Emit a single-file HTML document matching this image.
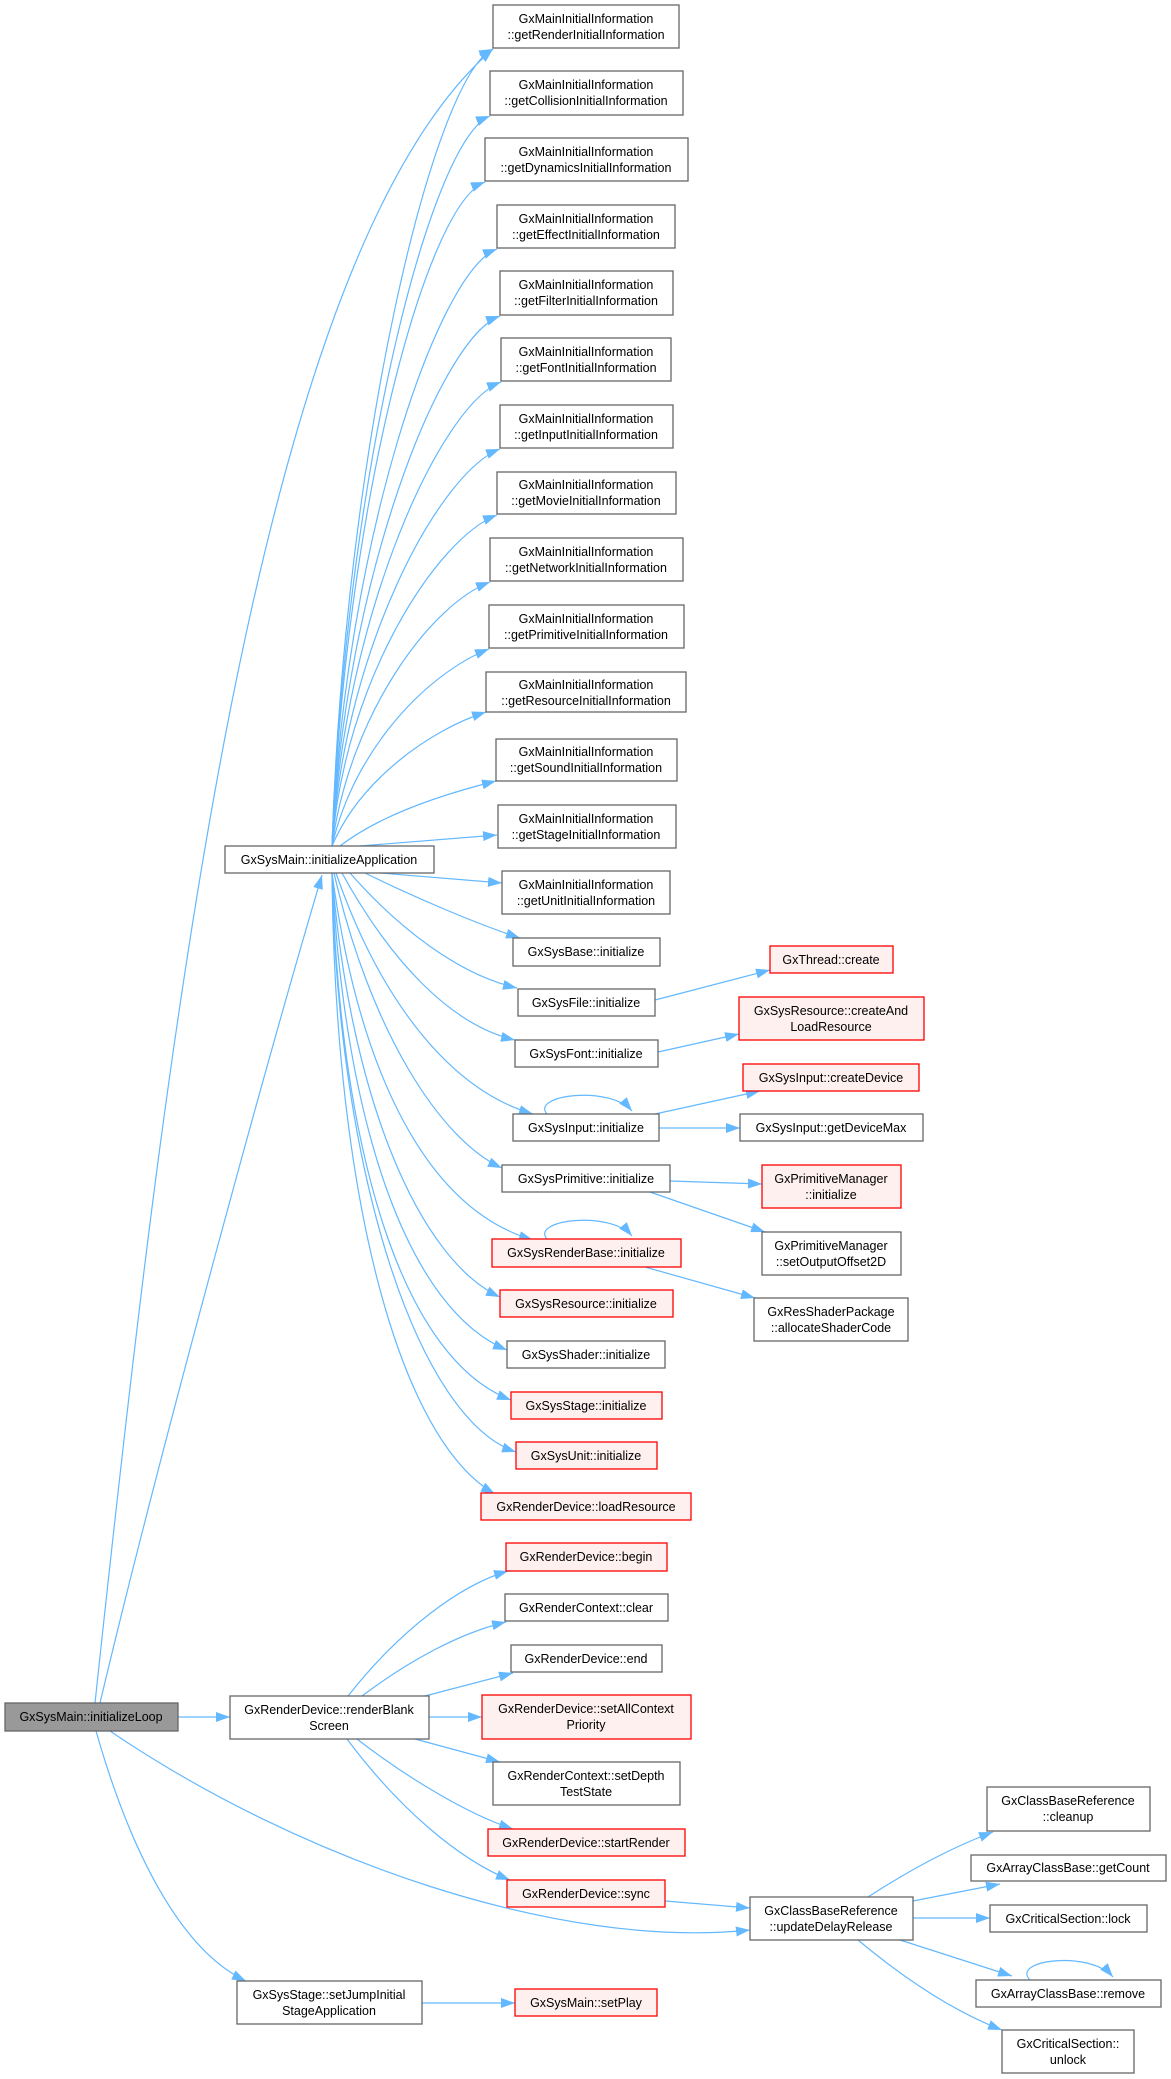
<!DOCTYPE html>
<html><head><meta charset="utf-8"><style>
html,body{margin:0;padding:0;background:#fff;}
svg{display:block}
text{font-family:"Liberation Sans",sans-serif;font-size:12.5px;fill:#000;text-anchor:middle;}
.n rect{fill:#fff;stroke:#666;stroke-width:1.3}
.r rect{fill:#fff0f0;stroke:#ff0000;stroke-width:1.3}
.g rect{fill:#999;stroke:#666;stroke-width:1.3}
path.e{fill:none;stroke:#63b8ff;stroke-width:1.2;marker-end:url(#a)}
</style></head><body>
<svg width="1171" height="2079" viewBox="0 0 1171 2079" xmlns="http://www.w3.org/2000/svg">
<defs><marker id="a" markerUnits="userSpaceOnUse" markerWidth="14" markerHeight="10" refX="14" refY="5" orient="auto"><path d="M0,0 L14,5 L0,10 z" fill="#63b8ff"/></marker></defs>

<!-- edges from initializeApplication upward -->
<path class="e" d="M332,846 C345,447 433,78 493,49"/>
<path class="e" d="M332,846 C345,480 430,140 490,116"/>
<path class="e" d="M332,846 C345,512 425,205 485,182"/>
<path class="e" d="M332,846 C345,546 437,272 497,249"/>
<path class="e" d="M332,846 C345,580 440,338 500,316"/>
<path class="e" d="M332,846 C345,612 441,405 501,382"/>
<path class="e" d="M332,846 C345,646 440,472 500,449"/>
<path class="e" d="M332,846 C345,680 437,538 497,515"/>
<path class="e" d="M332,846 C350,714 430,605 490,582"/>
<path class="e" d="M332,846 C355,746 430,672 489,649"/>
<path class="e" d="M332,846 C360,780 430,730 486,712"/>
<path class="e" d="M340,846 C380,815 440,795 496,781"/>
<path class="e" d="M360,846 L497,835"/>
<!-- downward -->
<path class="e" d="M380,873 L502,883"/>
<path class="e" d="M365,873 C420,900 480,925 520,938"/>
<path class="e" d="M350,873 C400,930 460,975 517,988"/>
<path class="e" d="M342,873 C390,960 450,1025 515,1040"/>
<path class="e" d="M336,873 C380,1000 450,1090 533,1114"/>
<path class="e" d="M334,873 C370,1030 440,1140 502,1168"/>
<path class="e" d="M332,873 C360,1080 430,1210 533,1240"/>
<path class="e" d="M332,873 C350,1100 420,1260 500,1297"/>
<path class="e" d="M332,873 C345,1130 410,1310 507,1350"/>
<path class="e" d="M332,873 C340,1160 405,1360 511,1400"/>
<path class="e" d="M332,873 C338,1180 420,1420 516,1452"/>
<path class="e" d="M332,873 C335,1200 400,1440 495,1494"/>

<!-- initializeLoop edges -->
<path class="e" d="M95,1703 C170,1000 260,250 493,49"/>
<path class="e" d="M100,1703 C160,1450 270,1050 322,875"/>
<path class="e" d="M178,1717 L230,1717"/>
<path class="e" d="M110,1731 C300,1860 560,1950 750,1930"/>
<path class="e" d="M96,1731 C130,1850 180,1950 246,1981"/>

<!-- renderBlank edges -->
<path class="e" d="M348,1696 C400,1630 460,1585 508,1571"/>
<path class="e" d="M362,1696 C410,1660 460,1633 506,1622"/>
<path class="e" d="M425,1696 L513,1673"/>
<path class="e" d="M429,1717 L482,1717"/>
<path class="e" d="M415,1739 L500,1762"/>
<path class="e" d="M357,1739 C410,1780 470,1815 513,1829"/>
<path class="e" d="M347,1739 C400,1810 460,1860 510,1880"/>
<path class="e" d="M665,1901 L750,1908"/>

<!-- updateDelayRelease edges -->
<path class="e" d="M868,1897 C910,1870 950,1848 993,1832"/>
<path class="e" d="M913,1901 L1000,1884"/>
<path class="e" d="M913,1918 L990,1918"/>
<path class="e" d="M900,1940 L1012,1976"/>
<path class="e" d="M858,1940 C900,1975 950,2010 1002,2030"/>
<path class="e" d="M1030,1980 C1010,1960 1090,1950 1113,1977"/>
<path class="e" d="M422,2003 L515,2003"/>

<!-- right column edges -->
<path class="e" d="M655,1000 L770,970"/>
<path class="e" d="M658,1052 L739,1034"/>
<path class="e" d="M655,1114 L760,1091"/>
<path class="e" d="M659,1128 L740,1128"/>
<path class="e" d="M670,1181 L762,1184"/>
<path class="e" d="M650,1192 L765,1232"/>
<path class="e" d="M645,1267 L755,1298"/>
<path class="e" d="M547,1114 C530,1095 610,1085 632,1111"/>
<path class="e" d="M547,1239 C530,1220 610,1210 632,1236"/>

<!-- nodes -->
<g class="n"><rect x="493" y="5" width="186" height="43"/><text x="586" y="23">GxMainInitialInformation</text><text x="586" y="39">::getRenderInitialInformation</text></g>
<g class="n"><rect x="490" y="71" width="193" height="44"/><text x="586" y="89">GxMainInitialInformation</text><text x="586" y="105">::getCollisionInitialInformation</text></g>
<g class="n"><rect x="485" y="138" width="203" height="43"/><text x="586" y="156">GxMainInitialInformation</text><text x="586" y="172">::getDynamicsInitialInformation</text></g>
<g class="n"><rect x="497" y="205" width="178" height="43"/><text x="586" y="223">GxMainInitialInformation</text><text x="586" y="239">::getEffectInitialInformation</text></g>
<g class="n"><rect x="500" y="271" width="173" height="44"/><text x="586" y="289">GxMainInitialInformation</text><text x="586" y="305">::getFilterInitialInformation</text></g>
<g class="n"><rect x="501" y="338" width="170" height="43"/><text x="586" y="356">GxMainInitialInformation</text><text x="586" y="372">::getFontInitialInformation</text></g>
<g class="n"><rect x="500" y="405" width="173" height="43"/><text x="586" y="423">GxMainInitialInformation</text><text x="586" y="439">::getInputInitialInformation</text></g>
<g class="n"><rect x="497" y="472" width="179" height="42"/><text x="586" y="489">GxMainInitialInformation</text><text x="586" y="505">::getMovieInitialInformation</text></g>
<g class="n"><rect x="490" y="538" width="193" height="43"/><text x="586" y="556">GxMainInitialInformation</text><text x="586" y="572">::getNetworkInitialInformation</text></g>
<g class="n"><rect x="489" y="605" width="195" height="43"/><text x="586" y="623">GxMainInitialInformation</text><text x="586" y="639">::getPrimitiveInitialInformation</text></g>
<g class="n"><rect x="486" y="672" width="200" height="40"/><text x="586" y="689">GxMainInitialInformation</text><text x="586" y="705">::getResourceInitialInformation</text></g>
<g class="n"><rect x="496" y="739" width="181" height="42"/><text x="586" y="756">GxMainInitialInformation</text><text x="586" y="772">::getSoundInitialInformation</text></g>
<g class="n"><rect x="498" y="805" width="178" height="43"/><text x="586" y="823">GxMainInitialInformation</text><text x="586" y="839">::getStageInitialInformation</text></g>
<g class="n"><rect x="502" y="871" width="168" height="43"/><text x="586" y="889">GxMainInitialInformation</text><text x="586" y="905">::getUnitInitialInformation</text></g>
<g class="n"><rect x="225" y="846" width="209" height="27"/><text x="329" y="864">GxSysMain::initializeApplication</text></g>
<g class="n"><rect x="513" y="938" width="147" height="28"/><text x="586" y="956">GxSysBase::initialize</text></g>
<g class="n"><rect x="518" y="989" width="137" height="27"/><text x="586" y="1007">GxSysFile::initialize</text></g>
<g class="n"><rect x="515" y="1040" width="143" height="27"/><text x="586" y="1058">GxSysFont::initialize</text></g>
<g class="n"><rect x="513" y="1114" width="146" height="27"/><text x="586" y="1132">GxSysInput::initialize</text></g>
<g class="n"><rect x="502" y="1165" width="168" height="27"/><text x="586" y="1183">GxSysPrimitive::initialize</text></g>
<g class="r"><rect x="492" y="1239" width="189" height="28"/><text x="586" y="1257">GxSysRenderBase::initialize</text></g>
<g class="r"><rect x="500" y="1290" width="173" height="27"/><text x="586" y="1308">GxSysResource::initialize</text></g>
<g class="n"><rect x="507" y="1341" width="158" height="27"/><text x="586" y="1359">GxSysShader::initialize</text></g>
<g class="r"><rect x="511" y="1392" width="151" height="27"/><text x="586" y="1410">GxSysStage::initialize</text></g>
<g class="r"><rect x="516" y="1442" width="141" height="27"/><text x="586" y="1460">GxSysUnit::initialize</text></g>
<g class="r"><rect x="481" y="1493" width="210" height="27"/><text x="586" y="1511">GxRenderDevice::loadResource</text></g>
<g class="r"><rect x="506" y="1543" width="161" height="28"/><text x="586" y="1561">GxRenderDevice::begin</text></g>
<g class="n"><rect x="505" y="1594" width="163" height="27"/><text x="586" y="1612">GxRenderContext::clear</text></g>
<g class="n"><rect x="511" y="1645" width="151" height="27"/><text x="586" y="1663">GxRenderDevice::end</text></g>
<g class="r"><rect x="482" y="1695" width="209" height="44"/><text x="586" y="1713">GxRenderDevice::setAllContext</text><text x="586" y="1729">Priority</text></g>
<g class="n"><rect x="493" y="1762" width="187" height="43"/><text x="586" y="1780">GxRenderContext::setDepth</text><text x="586" y="1796">TestState</text></g>
<g class="r"><rect x="488" y="1829" width="197" height="27"/><text x="586" y="1847">GxRenderDevice::startRender</text></g>
<g class="r"><rect x="507" y="1880" width="158" height="27"/><text x="586" y="1898">GxRenderDevice::sync</text></g>
<g class="r"><rect x="515" y="1989" width="142" height="27"/><text x="586" y="2007">GxSysMain::setPlay</text></g>
<g class="g"><rect x="5" y="1703" width="173" height="28"/><text x="91" y="1721">GxSysMain::initializeLoop</text></g>
<g class="n"><rect x="230" y="1696" width="199" height="43"/><text x="329" y="1714">GxRenderDevice::renderBlank</text><text x="329" y="1730">Screen</text></g>
<g class="n"><rect x="237" y="1981" width="185" height="43"/><text x="329" y="1999">GxSysStage::setJumpInitial</text><text x="329" y="2015">StageApplication</text></g>
<g class="n"><rect x="750" y="1897" width="163" height="43"/><text x="831" y="1915">GxClassBaseReference</text><text x="831" y="1931">::updateDelayRelease</text></g>
<g class="n"><rect x="987" y="1787" width="163" height="44"/><text x="1068" y="1805">GxClassBaseReference</text><text x="1068" y="1821">::cleanup</text></g>
<g class="n"><rect x="971" y="1855" width="195" height="26"/><text x="1068" y="1872">GxArrayClassBase::getCount</text></g>
<g class="n"><rect x="990" y="1905" width="157" height="27"/><text x="1068" y="1923">GxCriticalSection::lock</text></g>
<g class="n"><rect x="976" y="1980" width="185" height="27"/><text x="1068" y="1998">GxArrayClassBase::remove</text></g>
<g class="n"><rect x="1002" y="2030" width="132" height="43"/><text x="1068" y="2048">GxCriticalSection::</text><text x="1068" y="2064">unlock</text></g>
<g class="r"><rect x="770" y="946" width="123" height="27"/><text x="831" y="964">GxThread::create</text></g>
<g class="r"><rect x="739" y="997" width="185" height="43"/><text x="831" y="1015">GxSysResource::createAnd</text><text x="831" y="1031">LoadResource</text></g>
<g class="r"><rect x="743" y="1064" width="176" height="27"/><text x="831" y="1082">GxSysInput::createDevice</text></g>
<g class="n"><rect x="740" y="1114" width="183" height="27"/><text x="831" y="1132">GxSysInput::getDeviceMax</text></g>
<g class="r"><rect x="762" y="1165" width="139" height="43"/><text x="831" y="1183">GxPrimitiveManager</text><text x="831" y="1199">::initialize</text></g>
<g class="n"><rect x="762" y="1232" width="139" height="43"/><text x="831" y="1250">GxPrimitiveManager</text><text x="831" y="1266">::setOutputOffset2D</text></g>
<g class="n"><rect x="754" y="1298" width="154" height="43"/><text x="831" y="1316">GxResShaderPackage</text><text x="831" y="1332">::allocateShaderCode</text></g>
</svg>
</body></html>
